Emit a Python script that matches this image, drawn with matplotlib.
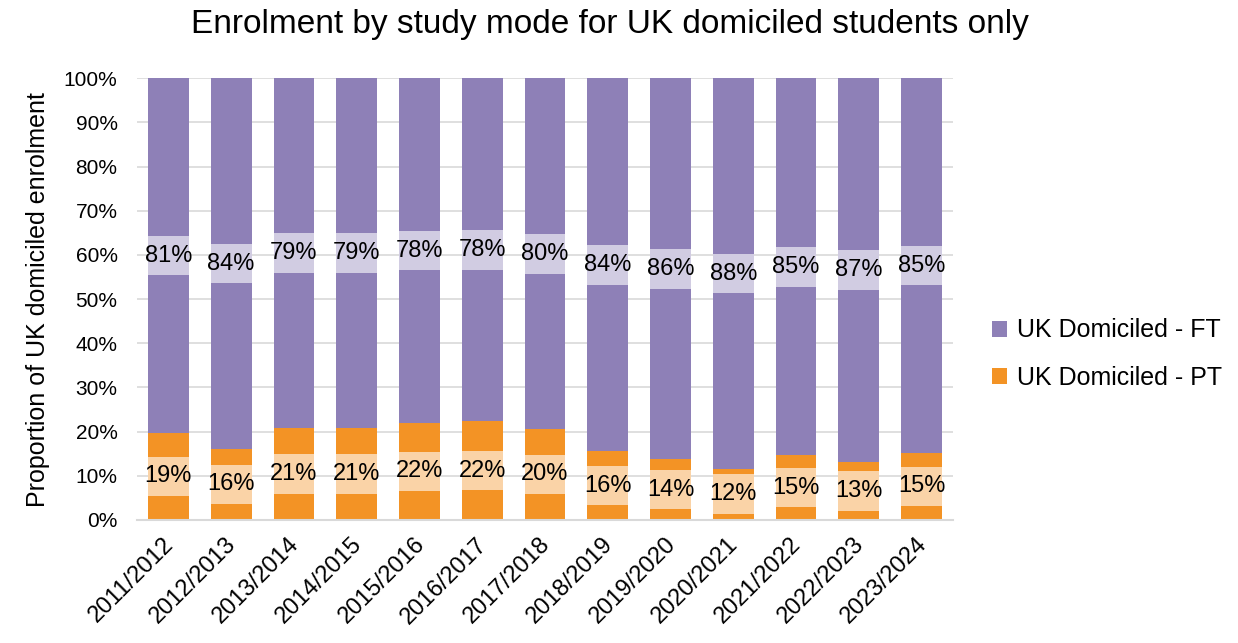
import numpy as np
import matplotlib.pyplot as plt
from matplotlib.ticker import PercentFormatter

plt.rcParams['font.family'] = ['Liberation Sans', 'DejaVu Sans']

years = ['2011/2012', '2012/2013', '2013/2014', '2014/2015', '2015/2016',
         '2016/2017', '2017/2018', '2018/2019', '2019/2020', '2020/2021',
         '2021/2022', '2022/2023', '2023/2024']
# part-time share (%)
pt_share = [19.7, 16.1, 20.9, 20.9, 22.0, 22.4, 20.6, 15.6, 13.8, 11.6, 14.7, 13.2, 15.2]
pt_labels = [19, 16, 21, 21, 22, 22, 20, 16, 14, 12, 15, 13, 15]
ft_labels = [81, 84, 79, 79, 78, 78, 80, 84, 86, 88, 85, 87, 85]

pt = np.array(pt_share)
ft = 100 - pt
x = np.arange(len(years))

purple = '#8E80B7'
orange = '#F39325'

fig = plt.figure(figsize=(12.38, 6.43), dpi=100)
ax = fig.add_axes([0.1107, 0.1913, 0.659, 0.687])

w = 0.65
ax.bar(x, pt, w, color=orange, label='UK Domiciled - PT', zorder=2)
ax.bar(x, ft, w, bottom=pt, color=purple, label='UK Domiciled - FT', zorder=2)

# label boxes (semi-transparent white)
box_h = 9.0
for centers, labs in [(pt / 2, pt_labels), (pt + ft / 2, ft_labels)]:
    ax.bar(x, box_h, w, bottom=centers - box_h / 2, color='white', alpha=0.6, zorder=3)
    for xi, c, v in zip(x, centers, labs):
        ax.text(xi, c, f'{v}%', ha='center', va='center', fontsize=17, zorder=4)

ax.set_ylim(0, 100)
ax.set_xlim(-0.5, len(years) - 0.5)
ax.set_yticks(np.arange(0, 101, 10))
ax.yaxis.set_major_formatter(PercentFormatter(decimals=0))
ax.set_xticks(x)
ax.set_xticklabels(years, rotation=45, ha='right', va='center_baseline',
                   rotation_mode='anchor')
ax.tick_params(axis='both', length=0)
ax.tick_params(axis='y', labelsize=15, pad=14)
ax.tick_params(axis='x', labelsize=17, pad=14)
ax.grid(axis='y', color='#D9D9D9', linewidth=1.2, zorder=0)
for s in ['top', 'right', 'left']:
    ax.spines[s].set_visible(False)
ax.spines['bottom'].set_color('#D9D9D9')
ax.spines['bottom'].set_linewidth(1.5)

ax.set_ylabel('Proportion of UK domiciled enrolment', fontsize=18, labelpad=10)
fig.text(0.493, 0.962, 'Enrolment by study mode for UK domiciled students only',
         fontsize=24, ha='center', va='center')

h, l = ax.get_legend_handles_labels()
ax.legend(h[::-1], l[::-1], loc='center left', bbox_to_anchor=(1.02, 0.375),
          frameon=False, fontsize=18, handlelength=0.6, handleheight=0.6,
          labelspacing=0.95, handletextpad=0.4)

fig.savefig('out.png', dpi=100)
